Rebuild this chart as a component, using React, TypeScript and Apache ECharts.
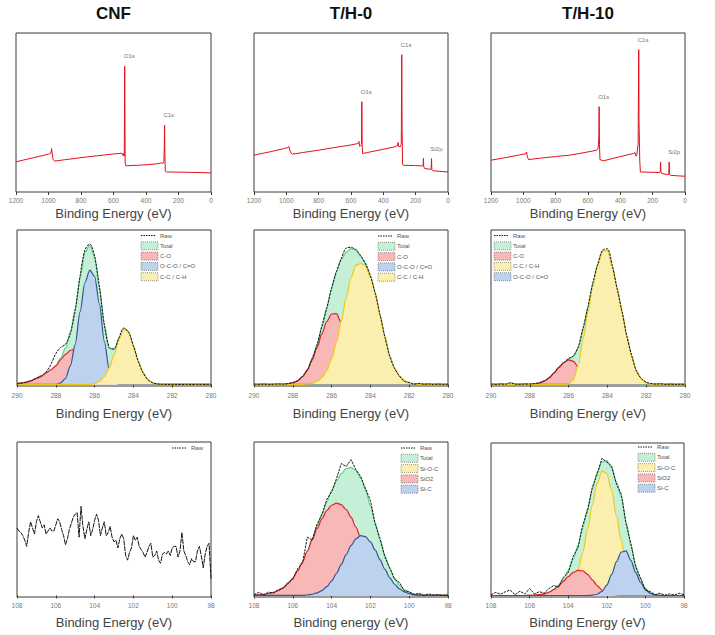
import React, { useEffect, useRef } from 'react';
import * as echarts from 'echarts';

const FONT = 'Arial, "Liberation Sans", Helvetica, sans-serif';

// ---------- Survey spectra: [binding energy, intensity] ----------
const CNF_SURVEY: [number, number][] = [
  [1200, 19.0], [1100, 21.4], [1000, 23.8], [985, 24.5], [981, 27.3], [978, 25.0], [972, 20.5], [962, 19.4],
  [900, 20.3], [800, 21.6], [700, 22.8], [600, 23.9], [548, 24.4], [542, 23.0], [537, 24.2], [534, 22.5],
  [532, 50.0], [531, 79.0], [530, 52.0], [528, 18.0], [524, 16.5], [450, 16.8], [350, 17.5], [305, 18.3],
  [295, 18.0], [290, 19.0], [287, 30.0], [285.5, 42.0], [284, 25.0], [281, 13.0], [275, 12.6], [150, 12.4],
  [50, 12.2], [0, 12.0],
];
const TH0_SURVEY: [number, number][] = [
  [1200, 23.2], [1100, 25.3], [1010, 27.4], [990, 28.0], [984, 28.6], [980, 27.0], [972, 24.5], [963, 23.8],
  [900, 24.8], [800, 26.3], [700, 28.0], [600, 29.6], [556, 30.5], [551, 31.8], [546, 28.6], [540, 29.2],
  [535, 30.0], [533, 56.8], [531, 30.0], [528, 24.2], [500, 24.8], [420, 26.5], [330, 28.4], [312, 29.2],
  [309, 31.2], [305, 28.6], [295, 28.4], [289, 30.0], [286, 86.3], [284, 40.0], [281, 17.5], [276, 16.8],
  [200, 16.6], [160, 16.4], [154, 16.5], [152, 21.2], [150, 16.0], [145, 14.8], [110, 14.3], [104, 14.2],
  [102, 21.0], [100, 14.0], [92, 13.3], [50, 13.0], [0, 12.6],
];
const TH10_SURVEY: [number, number][] = [
  [1200, 20.0], [1100, 21.8], [1000, 23.8], [985, 24.0], [980, 25.2], [976, 22.5], [968, 20.4], [900, 21.2],
  [800, 22.3], [711, 23.2], [600, 25.2], [546, 26.3], [540, 27.0], [536, 28.4], [533, 35.0], [531, 53.7],
  [529, 30.0], [526, 20.4], [505, 19.6], [420, 21.8], [320, 24.2], [309, 24.8], [303, 22.5], [298, 23.5],
  [290, 30.0], [286, 89.5], [284.5, 45.0], [282, 32.6], [280, 20.0], [276, 12.6], [200, 12.4], [156, 12.2],
  [153, 13.0], [151, 18.9], [149, 13.0], [144, 11.6], [110, 11.0], [100, 10.9], [98, 18.9], [96, 11.0],
  [90, 10.5], [50, 10.2], [0, 9.9],
];
const SURVEY_PEAKS = [
  [{ name: 'O1s', coord: [531, 79.0] }, { name: 'C1s', coord: [286.5, 42.0] }],
  [{ name: 'O1s', coord: [533, 56.8] }, { name: 'C1s', coord: [286, 86.3] }, { name: 'Si2p', coord: [102, 21.0] }],
  [{ name: 'O1s', coord: [531, 53.7] }, { name: 'C1s', coord: [286, 89.5] }, { name: 'Si2p', coord: [98, 18.9] }],
];

// ---------- C1s high resolution (290 -> 280 eV, 0.25 eV step) ----------
const CNF_C1S_RAW = [0.3, 0.8, 1.5, 2.5, 4, 5, 8, 13, 20, 24, 26, 33, 48, 70, 87, 91, 83, 63, 39, 24, 23, 30, 36.5, 34, 25, 15, 7.5, 3, 1, 0.3, 0, 0, 0, 0, 0, 0, 0, 0, 0, 0, 0];
const CNF_C1S_TOTAL = [0.5, 1, 1.5, 2.5, 4, 5.5, 7.5, 9.5, 12, 17, 23.5, 34, 49, 69, 85.5, 90, 82.5, 62.5, 38.5, 23.5, 22.5, 29.7, 36.3, 34, 25, 15, 7.5, 3, 1, 0.3, 0, 0, 0, 0, 0, 0, 0, 0, 0, 0, 0];
const CNF_C1S_CO = [0.5, 1, 1.5, 2.5, 4, 5.5, 7.5, 9.5, 12, 16, 19.5, 22, 23, 22, 19.5, 16, 12, 8.5, 5.5, 3, 1.5, 0.7, 0.3, 0, 0, 0, 0, 0, 0, 0, 0, 0, 0, 0, 0, 0, 0, 0, 0, 0, 0];
const CNF_C1S_OCO = [0, 0, 0, 0, 0, 0, 0, 0, 0, 1, 4, 12, 26, 47, 66, 74, 70, 52, 28, 10, 2, 0, 0, 0, 0, 0, 0, 0, 0, 0, 0, 0, 0, 0, 0, 0, 0, 0, 0, 0, 0];
const CNF_C1S_CC = [0, 0, 0, 0, 0, 0, 0, 0, 0, 0, 0, 0, 0, 0, 0, 0, 0.5, 2, 5, 10.5, 19, 29, 36, 34, 25, 15, 7.5, 3, 1, 0.3, 0, 0, 0, 0, 0, 0, 0, 0, 0, 0, 0];

const TH0_C1S_RAW = [0.1, 0, 0.2, 0, 0.1, 0.3, 0.2, 0.5, 1.3, 2.2, 5.4, 9.2, 17, 25.5, 37.8, 49.3, 62.5, 73, 81.5, 88.3, 88.8, 87, 83.4, 78, 70.4, 59, 45, 30.5, 18.3, 10.2, 5.5, 2, 1.3, 0.2, 0.6, 0.1, 0.3, 0, 0.2, 0, 0.1];
const TH0_C1S_TOTAL = [0, 0, 0, 0, 0, 0, 0, 0.4, 1, 2.4, 5.1, 9.6, 16.5, 25.8, 37.3, 49.7, 62, 73.2, 81, 85.7, 87.9, 87.4, 83, 78.5, 70, 59.3, 44.6, 30.8, 18, 10.5, 5.2, 2.3, 0.9, 0.3, 0, 0, 0, 0, 0, 0, 0];
const TH0_C1S_CO = [0, 0, 0, 0, 0, 0, 0, 0.4, 1, 2.4, 5, 9.3, 15.7, 23.9, 32.9, 40.8, 45.6, 45.9, 39.9, 29.6, 18.7, 10.2, 4.7, 1.9, 0.6, 0.2, 0, 0, 0, 0, 0, 0, 0, 0, 0, 0, 0, 0, 0, 0, 0];
const TH0_C1S_OCO = [0, 0, 0, 0, 0, 0, 0, 0, 0, 0, 0, 0, 0, 0, 0, 0, 0, 0, 0, 0, 0, 0, 0, 0, 0, 0, 0, 0, 0, 0, 0, 0, 0, 0, 0, 0, 0, 0, 0, 0, 0];
const TH0_C1S_CC = [0, 0, 0, 0, 0, 0, 0, 0, 0, 0, 0.1, 0.3, 0.8, 1.9, 4.4, 8.9, 16.4, 27.3, 41.1, 56.1, 69.2, 77.2, 78.3, 76.6, 69.4, 59.1, 44.6, 30.8, 18, 10.5, 5.2, 2.3, 0.9, 0.3, 0, 0, 0, 0, 0, 0, 0];

const TH10_C1S_RAW = [0.2, 0, 0.3, 0.1, 1.2, 0.2, 0.1, 0.3, 0.2, 0.6, 1.2, 2.4, 4.6, 7.6, 11.5, 14, 16.8, 18.6, 24.5, 36.6, 50.5, 65.8, 77.8, 87, 87.8, 77, 62, 47.5, 31.2, 18.8, 8.5, 3.8, 1.4, 0.6, 0.2, 0.4, 0, 0.2, 0, 0.1, 0];
const TH10_C1S_TOTAL = [0, 0, 0, 0, 0, 0, 0, 0, 0.1, 0.3, 0.9, 2.1, 4.2, 7.3, 10.9, 14.3, 16.3, 18, 23.7, 36.1, 50, 65.1, 77.3, 86.3, 86.8, 76.4, 62.5, 47, 31.6, 18.3, 8.8, 3.5, 1, 0.1, 0, 0, 0, 0, 0, 0, 0];
const TH10_C1S_CO = [0, 0, 0, 0, 0, 0, 0, 0, 0.1, 0.3, 0.9, 2.1, 4.2, 7.3, 10.9, 14.2, 15.9, 15, 11.2, 6.6, 3, 1.1, 0.3, 0.1, 0, 0, 0, 0, 0, 0, 0, 0, 0, 0, 0, 0, 0, 0, 0, 0, 0];
const TH10_C1S_CC = [0, 0, 0, 0, 0, 0, 0, 0, 0, 0, 0, 0, 0, 0, 0, 0.1, 0.4, 3, 12.5, 29.5, 47, 64, 77, 86.2, 86.8, 76.4, 62.5, 47, 31.6, 18.3, 8.8, 3.5, 1, 0.1, 0, 0, 0, 0, 0, 0, 0];
const TH10_C1S_OCO = [0, 0, 0, 0, 0, 0, 0, 0, 0, 0, 0, 0, 0, 0, 0, 0, 0, 0, 0, 0, 0, 0, 0, 0, 0, 0, 0, 0, 0, 0, 0, 0, 0, 0, 0, 0, 0, 0, 0, 0, 0];

// ---------- Si2p high resolution ----------
// CNF: 108 -> 98 eV, 0.1 eV step
const CNF_SI2P_RAW = [
  44, 42, 41, 39, 36, 32, 41, 48, 44, 40, 48, 52, 48, 44, 46, 40, 42, 44, 42, 42,
  46, 50, 48, 43, 39, 33, 37, 43, 47, 51, 53, 54, 38, 58, 45, 37, 43, 48, 39, 43,
  49, 53, 49, 39, 44, 48, 39, 41, 45, 38, 35, 36, 31, 37, 40, 37, 26, 23, 28, 31,
  39, 36, 38, 32, 30, 28, 25, 28, 32, 34, 25, 26, 29, 23, 21, 27, 28, 27, 29, 26,
  31, 32, 32, 25, 29, 41, 29, 26, 22, 20, 24, 22, 22, 29, 32, 26, 18, 27, 32, 34, 11,
];
// T/H: 108 -> 98 eV, 0.25 eV step
const TH0_SI2P_RAW = [0.5, 2, 0.3, 2.2, 1.5, 3.8, 4.6, 8.5, 10.5, 17.5, 21, 38, 36, 46.5, 52.5, 62.5, 67.5, 76, 86, 84, 88.5, 82, 77.5, 69.5, 62, 46.5, 37, 25, 18, 10.5, 8.5, 3, 2.5, 0.5, 1.5, 0, 1, 0.2, 0.5, 0, 0.3];
const TH0_SI2P_TOTAL = [0.2, 0.4, 0.7, 1.2, 2, 3.2, 5, 7.6, 11.2, 16, 21.9, 29.1, 37, 45.2, 53.2, 61, 68.1, 74.5, 79.4, 82.6, 83.5, 81.5, 76.5, 68.7, 58.5, 47.2, 35.9, 25.8, 17.4, 11.1, 6.6, 3.7, 2, 1, 0.4, 0.2, 0, 0, 0, 0, 0];
const TH0_SI2P_SIOC = [0, 0, 0, 0, 0, 0, 0, 0, 0, 0, 0, 0, 0, 0, 0, 0, 0, 0, 0, 0, 0, 0, 0, 0, 0, 0, 0, 0, 0, 0, 0, 0, 0, 0, 0, 0, 0, 0, 0, 0, 0];
const TH0_SI2P_SIO2 = [0.2, 0.4, 0.7, 1.2, 2, 3.2, 5, 7.6, 11.2, 16, 21.8, 28.8, 36.2, 43.5, 50, 55.3, 58.8, 60.2, 59.2, 56, 51, 44.6, 37.5, 30.4, 23.6, 17.7, 12.7, 8.8, 5.9, 3.8, 2.3, 1.4, 0.8, 0.4, 0.2, 0.1, 0, 0, 0, 0, 0];
const TH0_SI2P_SIC = [0, 0, 0, 0, 0, 0, 0, 0, 0, 0, 0.1, 0.3, 0.8, 1.7, 3.2, 5.7, 9.3, 14.3, 20.2, 26.6, 32.5, 36.9, 39, 38.3, 34.9, 29.5, 23.2, 17, 11.5, 7.3, 4.3, 2.3, 1.2, 0.6, 0.2, 0.1, 0, 0, 0, 0, 0];

const TH10_SI2P_RAW = [0.5, 2, 0.8, 2.5, 3.5, 0.5, 2.8, 1, 4.5, 1, 2.5, 1.5, 4.5, 6.5, 5.5, 12, 15, 25.5, 31, 46, 55.5, 71, 79.5, 90, 87.5, 85, 73, 66.5, 47, 34, 18.5, 11.5, 3.5, 2.5, 0.5, 1.5, 0.2, 1, 0.3, 1.5, 0.5];
const TH10_SI2P_TOTAL = [0, 0, 0, 0, 0, 0, 0, 0, 0.1, 0.2, 0.5, 1, 2.2, 4, 6.8, 10.8, 16.2, 23.4, 32.7, 44.2, 56.9, 69.5, 80.8, 87.8, 88.5, 83.5, 74.5, 64.7, 48.2, 32.5, 19.5, 10.5, 4.6, 1.7, 0.5, 0.1, 0, 0, 0, 0, 0];
const TH10_SI2P_SIOC = [0, 0, 0, 0, 0, 0, 0, 0, 0, 0, 0, 0, 0.1, 0.2, 0.6, 1.6, 3.9, 8.4, 16.3, 28, 43, 59, 73.5, 81.5, 80, 69, 52.1, 36.1, 19, 9.5, 4.5, 2, 0.8, 0.3, 0.1, 0, 0, 0, 0, 0, 0];
const TH10_SI2P_SIO2 = [0, 0, 0, 0, 0, 0, 0, 0, 0.1, 0.2, 0.5, 1, 2.1, 3.8, 6.2, 9.2, 12.3, 15, 16.4, 16.2, 13.9, 10.3, 6.5, 3.6, 1.7, 0.7, 0.2, 0.1, 0, 0, 0, 0, 0, 0, 0, 0, 0, 0, 0, 0, 0];
const TH10_SI2P_SIC = [0, 0, 0, 0, 0, 0, 0, 0, 0, 0, 0, 0, 0, 0, 0, 0, 0, 0, 0, 0, 0, 0.2, 0.8, 2.7, 6.8, 13.8, 22.2, 28.5, 29.2, 23, 15, 8.5, 3.8, 1.4, 0.4, 0.1, 0, 0, 0, 0, 0];

// ---------- texts ----------
const TITLES = ['CNF', 'T/H-0', 'T/H-10'];
const AXIS_TITLES = [
  'Binding Energy (eV)', 'Binding Energy (eV)', 'Binding Energy (eV)',
  'Binding Energy (eV)', 'Binding Energy (eV)', 'Binding Energy (eV)',
  'Binding Energy (eV)', 'Binding energy (eV)', 'Binding Energy (eV)',
];

// ---------- styling ----------
const COL = {
  raw: '#141414',
  survey: '#e3101c',
  totalLine: '#5cce8c', totalFill: '#c6efd7',
  redLine: '#e01f2a', redFill: '#f8b8b8',
  blueLine: '#34568e', blueFill: '#bcd2ee',
  yellowLine: '#eccb16', yellowFill: '#fbefb0',
  border: '#3a3a3a',
};

const GRIDS = [
  { left: 16, top: 33, width: 195, height: 159 },
  { left: 254, top: 33, width: 194, height: 159 },
  { left: 491, top: 33, width: 194, height: 159 },
  { left: 17, top: 230, width: 194, height: 156 },
  { left: 254, top: 230, width: 194, height: 156 },
  { left: 491, top: 230, width: 194, height: 156 },
  { left: 17, top: 442, width: 194, height: 155 },
  { left: 254, top: 442, width: 194, height: 155 },
  { left: 491, top: 443, width: 193, height: 154 },
];
const ROW_AXIS = [
  { min: 0, max: 1200, interval: 200, margin: 5 },
  { min: 280, max: 290, interval: 2, margin: 6 },
  { min: 98, max: 108, interval: 2, margin: 5 },
];
const TITLE_Y = 13;
const AXIS_TITLE_Y = [213, 413, 622];

function energyGrid(start: number, end: number, step: number): number[] {
  const out: number[] = [];
  const n = Math.round((start - end) / step);
  for (let i = 0; i <= n; i++) out.push(Math.round((start - i * step) * 1000) / 1000);
  return out;
}
const C1S_E = energyGrid(290, 280, 0.25);
const SI2P_E = energyGrid(108, 98, 0.25);
const CNF_SI2P_E = energyGrid(108, 98, 0.1);

function zip(e: number[], v: number[]) {
  return e.map((x, i) => [x, v[i]]);
}

function comp(g: number, name: string, e: number[], v: number[], line: string, fill: string, z: number) {
  return {
    type: 'line', name, xAxisIndex: g, yAxisIndex: g, data: zip(e, v),
    showSymbol: false, smooth: 0.3, smoothMonotone: 'x', silent: true, z,
    lineStyle: { color: line, width: 1.2 },
    areaStyle: { color: fill, opacity: 1 },
  };
}
function raw(g: number, e: number[], v: number[], smooth: number | boolean, dash: number[] = [2.5, 1]) {
  return {
    type: 'line', name: 'Raw', xAxisIndex: g, yAxisIndex: g, data: zip(e, v),
    showSymbol: false, smooth, silent: true, z: 20,
    lineStyle: { color: COL.raw, width: 1, type: dash },
  };
}
function survey(g: number, data: [number, number][], peaks: any[]) {
  return {
    type: 'line', xAxisIndex: g, yAxisIndex: g, data, showSymbol: false, silent: true,
    lineStyle: { color: COL.survey, width: 1 },
    markPoint: {
      symbol: 'circle', symbolSize: 0, silent: true,
      label: {
        show: true, formatter: '{b}', position: 'top', distance: 7, align: 'left',
        offset: [-1, 0], fontSize: 6, color: '#777', fontFamily: FONT,
      },
      data: peaks,
    },
  };
}

type LegendItem = { name: string; kind: 'line' | 'box'; fill?: string };
const LEG_RAW: LegendItem = { name: 'Raw', kind: 'line' };
const LEG_TOTAL: LegendItem = { name: 'Total', kind: 'box', fill: COL.totalFill };
const LEGENDS: { x: number; y: number; items: LegendItem[] }[] = [
  { x: 141, y: 235.5, items: [LEG_RAW, LEG_TOTAL, { name: 'C-O', kind: 'box', fill: COL.redFill }, { name: 'O-C-O / C=O', kind: 'box', fill: COL.blueFill }, { name: 'C-C / C-H', kind: 'box', fill: COL.yellowFill }] },
  { x: 378, y: 236, items: [LEG_RAW, LEG_TOTAL, { name: 'C-O', kind: 'box', fill: COL.redFill }, { name: 'O-C-O / C=O', kind: 'box', fill: COL.blueFill }, { name: 'C-C / C-H', kind: 'box', fill: COL.yellowFill }] },
  { x: 494, y: 235.5, items: [LEG_RAW, LEG_TOTAL, { name: 'C-O', kind: 'box', fill: COL.redFill }, { name: 'C-C / C-H', kind: 'box', fill: COL.yellowFill }, { name: 'O-C-O / C=O', kind: 'box', fill: COL.blueFill }] },
  { x: 172, y: 448, items: [LEG_RAW] },
  { x: 401, y: 448, items: [LEG_RAW, LEG_TOTAL, { name: 'Si-O-C', kind: 'box', fill: COL.yellowFill }, { name: 'SiO2', kind: 'box', fill: COL.redFill }, { name: 'Si-C', kind: 'box', fill: COL.blueFill }] },
  { x: 638, y: 447, items: [LEG_RAW, LEG_TOTAL, { name: 'Si-O-C', kind: 'box', fill: COL.yellowFill }, { name: 'SiO2', kind: 'box', fill: COL.redFill }, { name: 'Si-C', kind: 'box', fill: COL.blueFill }] },
];

function buildGraphic() {
  const els: any[] = [];
  GRIDS.slice(0, 3).forEach((g, i) => {
    els.push({
      type: 'text', x: g.left + g.width / 2, y: TITLE_Y, silent: true,
      style: { text: TITLES[i], font: `bold 17px ${FONT}`, fill: '#111', align: 'center', verticalAlign: 'middle' },
    });
  });
  GRIDS.forEach((g, i) => {
    els.push({
      type: 'text', x: g.left + g.width / 2, y: AXIS_TITLE_Y[Math.floor(i / 3)], silent: true,
      style: { text: AXIS_TITLES[i], font: `13px ${FONT}`, fill: '#444', align: 'center', verticalAlign: 'middle' },
    });
  });
  LEGENDS.forEach((lg) => {
    lg.items.forEach((it, k) => {
      const cy = lg.y + k * 10.3;
      if (it.kind === 'line') {
        els.push({
          type: 'line', silent: true,
          shape: { x1: lg.x, y1: cy, x2: lg.x + 15, y2: cy },
          style: { stroke: COL.raw, lineWidth: 1, lineDash: [1.5, 1] },
        });
      } else {
        els.push({
          type: 'rect', silent: true,
          shape: { x: lg.x, y: cy - 4, width: 17, height: 8 },
          style: { fill: it.fill, stroke: '#555', lineWidth: 0.6, lineDash: [1, 1] },
        });
      }
      els.push({
        type: 'text', x: lg.x + 19, y: cy, silent: true,
        style: { text: it.name, font: `6px ${FONT}`, fill: '#555', align: 'left', verticalAlign: 'middle' },
      });
    });
  });
  return els;
}

export default function App() {
  const ref = useRef<HTMLDivElement>(null);
  useEffect(() => {
    if (!ref.current) return;
    const chart = echarts.init(ref.current, undefined, { renderer: 'svg' });
    const grid = GRIDS.map((g) => ({ ...g, show: true, borderColor: COL.border, borderWidth: 1, backgroundColor: 'transparent' }));
    const xAxis = GRIDS.map((_, i) => {
      const r = ROW_AXIS[Math.floor(i / 3)];
      return {
        gridIndex: i, type: 'value', inverse: true, min: r.min, max: r.max, interval: r.interval,
        axisLine: { show: false },
        axisTick: { show: true, length: 3, lineStyle: { color: COL.border } },
        axisLabel: {
          fontSize: 6.5, color: '#777', margin: r.margin, fontFamily: FONT,
          formatter: (v: number) => String(v),
        },
        splitLine: { show: false },
      };
    });
    const yAxis = GRIDS.map((_, i) => ({
      gridIndex: i, type: 'value', min: i < 3 ? 0 : -1, max: 100,
      axisLine: { show: false }, axisTick: { show: false }, axisLabel: { show: false }, splitLine: { show: false },
    }));
    const series: any[] = [
      survey(0, CNF_SURVEY, SURVEY_PEAKS[0]),
      survey(1, TH0_SURVEY, SURVEY_PEAKS[1]),
      survey(2, TH10_SURVEY, SURVEY_PEAKS[2]),
      // CNF C1s
      comp(3, 'Total', C1S_E, CNF_C1S_TOTAL, COL.totalLine, COL.totalFill, 2),
      comp(3, 'C-O', C1S_E, CNF_C1S_CO, COL.redLine, COL.redFill, 3),
      comp(3, 'O-C-O / C=O', C1S_E, CNF_C1S_OCO, COL.blueLine, COL.blueFill, 4),
      comp(3, 'C-C / C-H', C1S_E, CNF_C1S_CC, COL.yellowLine, COL.yellowFill, 5),
      raw(3, C1S_E, CNF_C1S_RAW, 0.3),
      // T/H-0 C1s
      comp(4, 'Total', C1S_E, TH0_C1S_TOTAL, COL.totalLine, COL.totalFill, 2),
      comp(4, 'C-O', C1S_E, TH0_C1S_CO, COL.redLine, COL.redFill, 3),
      comp(4, 'O-C-O / C=O', C1S_E, TH0_C1S_OCO, COL.blueLine, COL.blueFill, 4),
      comp(4, 'C-C / C-H', C1S_E, TH0_C1S_CC, COL.yellowLine, COL.yellowFill, 5),
      raw(4, C1S_E, TH0_C1S_RAW, 0.3),
      // T/H-10 C1s
      comp(5, 'Total', C1S_E, TH10_C1S_TOTAL, COL.totalLine, COL.totalFill, 2),
      comp(5, 'C-O', C1S_E, TH10_C1S_CO, COL.redLine, COL.redFill, 3),
      comp(5, 'O-C-O / C=O', C1S_E, TH10_C1S_OCO, COL.blueLine, COL.blueFill, 4),
      comp(5, 'C-C / C-H', C1S_E, TH10_C1S_CC, COL.yellowLine, COL.yellowFill, 5),
      raw(5, C1S_E, TH10_C1S_RAW, 0.3),
      // CNF Si2p
      raw(6, CNF_SI2P_E, CNF_SI2P_RAW, false, [5, 0.8]),
      // T/H-0 Si2p
      comp(7, 'Total', SI2P_E, TH0_SI2P_TOTAL, COL.totalLine, COL.totalFill, 2),
      comp(7, 'Si-O-C', SI2P_E, TH0_SI2P_SIOC, COL.yellowLine, COL.yellowFill, 3),
      comp(7, 'SiO2', SI2P_E, TH0_SI2P_SIO2, COL.redLine, COL.redFill, 4),
      comp(7, 'Si-C', SI2P_E, TH0_SI2P_SIC, COL.blueLine, COL.blueFill, 5),
      raw(7, SI2P_E, TH0_SI2P_RAW, false),
      // T/H-10 Si2p
      comp(8, 'Total', SI2P_E, TH10_SI2P_TOTAL, COL.totalLine, COL.totalFill, 2),
      comp(8, 'Si-O-C', SI2P_E, TH10_SI2P_SIOC, COL.yellowLine, COL.yellowFill, 3),
      comp(8, 'SiO2', SI2P_E, TH10_SI2P_SIO2, COL.redLine, COL.redFill, 4),
      comp(8, 'Si-C', SI2P_E, TH10_SI2P_SIC, COL.blueLine, COL.blueFill, 5),
      raw(8, SI2P_E, TH10_SI2P_RAW, false),
    ];
    chart.setOption({
      animation: false,
      backgroundColor: '#ffffff',
      textStyle: { fontFamily: FONT },
      grid, xAxis, yAxis, series,
      graphic: buildGraphic(),
    });
    return () => chart.dispose();
  }, []);
  return (
    <div
      ref={ref}
      style={{ position: 'absolute', left: 0, top: 0, width: 715, height: 635, background: '#fff' }}
    />
  );
}
